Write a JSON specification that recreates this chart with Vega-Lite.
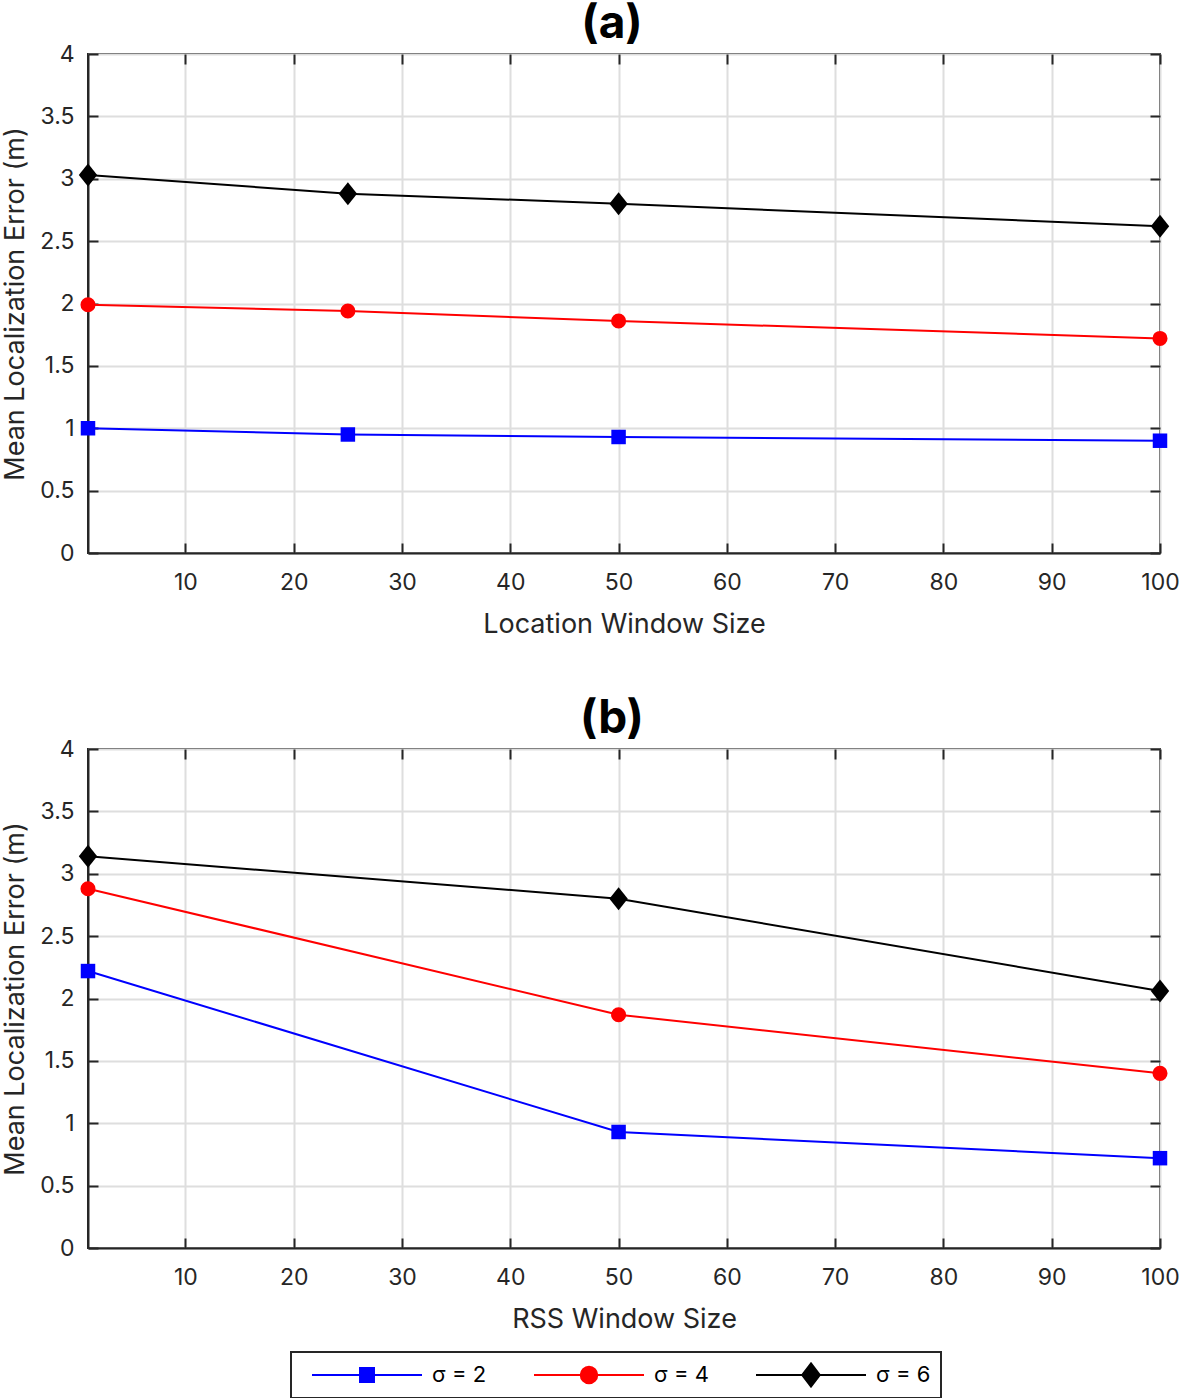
{
  "$schema": "https://vega.github.io/schema/vega-lite/v6.json",
  "padding": {"left": 0, "top": 0, "right": 2, "bottom": 0},
  "background": "white",
  "datasets": {
    "a": [
      {"w": 1, "err": 1.00, "s": "σ = 2"}, {"w": 25, "err": 0.95, "s": "σ = 2"}, {"w": 50, "err": 0.93, "s": "σ = 2"}, {"w": 100, "err": 0.90, "s": "σ = 2"},
      {"w": 1, "err": 1.99, "s": "σ = 4"}, {"w": 25, "err": 1.94, "s": "σ = 4"}, {"w": 50, "err": 1.86, "s": "σ = 4"}, {"w": 100, "err": 1.72, "s": "σ = 4"},
      {"w": 1, "err": 3.03, "s": "σ = 6"}, {"w": 25, "err": 2.88, "s": "σ = 6"}, {"w": 50, "err": 2.80, "s": "σ = 6"}, {"w": 100, "err": 2.62, "s": "σ = 6"}
    ],
    "b": [
      {"w": 1, "err": 2.22, "s": "σ = 2"}, {"w": 50, "err": 0.93, "s": "σ = 2"}, {"w": 100, "err": 0.72, "s": "σ = 2"},
      {"w": 1, "err": 2.88, "s": "σ = 4"}, {"w": 50, "err": 1.87, "s": "σ = 4"}, {"w": 100, "err": 1.40, "s": "σ = 4"},
      {"w": 1, "err": 3.14, "s": "σ = 6"}, {"w": 50, "err": 2.80, "s": "σ = 6"}, {"w": 100, "err": 2.06, "s": "σ = 6"}
    ]
  },
  "bounds": "flush",
  "spacing": 196,
  "vconcat": [
    {
      "title": {"text": "(a)"},
      "width": 1072,
      "height": 499,
      "data": {"name": "a"},
      "layer": [
        {
          "mark": {"type": "line", "strokeWidth": 2},
          "encoding": {
            "x": {"field": "w", "type": "quantitative", "scale": {"domain": [1, 100], "nice": false},
                  "axis": {"orient": "bottom", "title": "Location Window Size", "values": [10, 20, 30, 40, 50, 60, 70, 80, 90, 100]}},
            "y": {"field": "err", "type": "quantitative", "scale": {"domain": [0, 4], "nice": false},
                  "axis": {"orient": "left", "title": "Mean Localization Error (m)", "values": [0, 0.5, 1, 1.5, 2, 2.5, 3, 3.5, 4], "format": "~g"}},
            "color": {"field": "s", "type": "nominal",
                      "scale": {"domain": ["σ = 2", "σ = 4", "σ = 6"], "range": ["#0000ff", "#ff0000", "#000000"]},
                      "legend": {
                        "orient": "none", "legendX": 203, "legendY": 1298, "direction": "horizontal", "title": null,
                        "symbolSize": 12100, "symbolStrokeWidth": 2, "clipHeight": 26, "symbolOffset": 10,
                        "labelFont": "Inter", "labelFontSize": 22, "labelColor": "black", "labelOffset": 9,
                        "columnPadding": 36, "padding": 10,
                        "encode": {"symbols": {"update": {
                          "shape": {"signal": "datum.value === 'σ = 2' ? 'M-1,0H1M-0.127,-0.127H0.127V0.127H-0.127Z' : datum.value === 'σ = 4' ? 'M-1,0H1M0.15,0A0.15,0.15,0,1,1,-0.15,0A0.15,0.15,0,1,1,0.15,0Z' : 'M-1,0H1M0,-0.21L0.16,0L0,0.21L-0.16,0Z'"},
                          "fill": {"signal": "datum.value === 'σ = 2' ? '#0000ff' : datum.value === 'σ = 4' ? '#ff0000' : '#000000'"},
                          "fillOpacity": {"value": 1},
                          "opacity": {"value": 1}
                        }}}
                      }}
          }
        },
        {
          "transform": [{"filter": "datum.s === 'σ = 2'"}],
          "mark": {"type": "point", "filled": true, "opacity": 1, "shape": "square", "size": 210},
          "encoding": {
            "x": {"field": "w", "type": "quantitative", "scale": {"domain": [1, 100], "nice": false},
                  "axis": {"orient": "top", "title": null, "labels": false, "grid": false, "domain": false, "values": [10, 20, 30, 40, 50, 60, 70, 80, 90, 100]}},
            "y": {"field": "err", "type": "quantitative", "scale": {"domain": [0, 4], "nice": false},
                  "axis": {"orient": "right", "title": null, "labels": false, "grid": false, "domain": false, "values": [0, 0.5, 1, 1.5, 2, 2.5, 3, 3.5, 4]}},
            "color": {"field": "s", "type": "nominal", "legend": null}
          }
        },
        {
          "transform": [{"filter": "datum.s === 'σ = 4'"}],
          "mark": {"type": "point", "filled": true, "opacity": 1, "shape": "circle", "size": 227},
          "encoding": {
            "x": {"field": "w", "type": "quantitative", "axis": null},
            "y": {"field": "err", "type": "quantitative", "axis": null},
            "color": {"field": "s", "type": "nominal", "legend": null}
          }
        },
        {
          "transform": [{"filter": "datum.s === 'σ = 6'"}],
          "mark": {"type": "point", "filled": true, "opacity": 1, "shape": "M0,-1.15L0.92,0L0,1.15L-0.92,0Z", "size": 400},
          "encoding": {
            "x": {"field": "w", "type": "quantitative", "axis": null},
            "y": {"field": "err", "type": "quantitative", "axis": null},
            "color": {"field": "s", "type": "nominal", "legend": null}
          }
        }
      ],
      "resolve": {"axis": {"x": "independent", "y": "independent"}}
    },
    {
      "title": {"text": "(b)"},
      "width": 1072,
      "height": 499,
      "data": {"name": "b"},
      "layer": [
        {
          "mark": {"type": "line", "strokeWidth": 2},
          "encoding": {
            "x": {"field": "w", "type": "quantitative", "scale": {"domain": [1, 100], "nice": false},
                  "axis": {"orient": "bottom", "title": "RSS Window Size", "values": [10, 20, 30, 40, 50, 60, 70, 80, 90, 100]}},
            "y": {"field": "err", "type": "quantitative", "scale": {"domain": [0, 4], "nice": false},
                  "axis": {"orient": "left", "title": "Mean Localization Error (m)", "values": [0, 0.5, 1, 1.5, 2, 2.5, 3, 3.5, 4], "format": "~g"}},
            "color": {"field": "s", "type": "nominal", "legend": null}
          }
        },
        {
          "transform": [{"filter": "datum.s === 'σ = 2'"}],
          "mark": {"type": "point", "filled": true, "opacity": 1, "shape": "square", "size": 210},
          "encoding": {
            "x": {"field": "w", "type": "quantitative", "scale": {"domain": [1, 100], "nice": false},
                  "axis": {"orient": "top", "title": null, "labels": false, "grid": false, "domain": false, "values": [10, 20, 30, 40, 50, 60, 70, 80, 90, 100]}},
            "y": {"field": "err", "type": "quantitative", "scale": {"domain": [0, 4], "nice": false},
                  "axis": {"orient": "right", "title": null, "labels": false, "grid": false, "domain": false, "values": [0, 0.5, 1, 1.5, 2, 2.5, 3, 3.5, 4]}},
            "color": {"field": "s", "type": "nominal", "legend": null}
          }
        },
        {
          "transform": [{"filter": "datum.s === 'σ = 4'"}],
          "mark": {"type": "point", "filled": true, "opacity": 1, "shape": "circle", "size": 227},
          "encoding": {
            "x": {"field": "w", "type": "quantitative", "axis": null},
            "y": {"field": "err", "type": "quantitative", "axis": null},
            "color": {"field": "s", "type": "nominal", "legend": null}
          }
        },
        {
          "transform": [{"filter": "datum.s === 'σ = 6'"}],
          "mark": {"type": "point", "filled": true, "opacity": 1, "shape": "M0,-1.15L0.92,0L0,1.15L-0.92,0Z", "size": 400},
          "encoding": {
            "x": {"field": "w", "type": "quantitative", "axis": null},
            "y": {"field": "err", "type": "quantitative", "axis": null},
            "color": {"field": "s", "type": "nominal", "legend": null}
          }
        }
      ],
      "resolve": {"axis": {"x": "independent", "y": "independent"}}
    }
  ],
  "config": {
    "font": "Inter",
    "view": {"stroke": "#262626", "strokeWidth": 2},
    "title": {"font": "Inter", "fontSize": 46, "fontWeight": "bold", "color": "#000000", "offset": -5, "dx": -12, "anchor": "middle"},
    "axis": {
      "labelFont": "Inter", "labelFontSize": 23, "labelColor": "#262626", "labelFlush": false,
      "titleFont": "Inter", "titleFontSize": 27, "titleFontWeight": "normal", "titleColor": "#262626",
      "domainColor": "#262626", "domainWidth": 2,
      "tickColor": "#262626", "tickWidth": 2, "tickSize": -10,
      "gridColor": "#dedede", "gridWidth": 2,
      "labelPadding": 24, "titlePadding": 10
    },
    "axisX": {"labelPadding": 28, "titlePadding": 17},
    "legend": {"strokeColor": "#262626", "strokeWidth": 2, "fillColor": "white"}
  }
}
